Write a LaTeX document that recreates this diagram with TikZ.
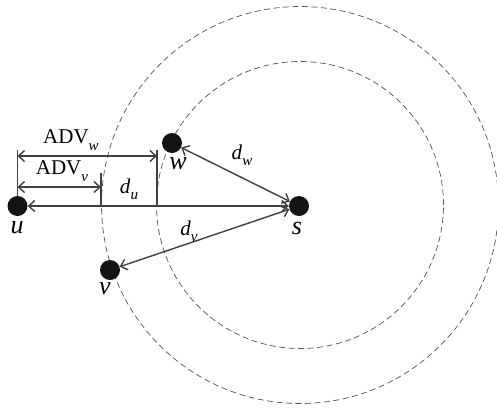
\documentclass[tikz,border=0pt]{standalone}
\usepackage{fontspec}
\setmainfont{Liberation Serif}
\usetikzlibrary{arrows.meta,positioning}
\definecolor{linegray}{HTML}{404040}
\definecolor{ringgray}{HTML}{505050}
\newcommand{\labfont}{\fontsize{21}{24}\selectfont}
\newcommand{\namefont}{\fontsize{26}{28}\selectfont}
\newcommand{\lowsub}[1]{\raisebox{-0.3em}{\fontsize{15}{15}\selectfont\textit{#1}}}

\begin{document}
\begin{tikzpicture}[x=1pt,y=-1pt,
  every node/.style={font=\labfont,inner sep=1pt},
  dot/.style={circle,fill=black!92,inner sep=0pt,minimum size=20pt},
  letterlab/.style={font=\namefont\itshape},
  ring/.style={ringgray,dash pattern=on 6pt off 3.5pt,line width=0.7pt},
  dist/.style={linegray,line width=1.4pt,{Straight Barb[length=6pt,width=11pt]}-{Straight Barb[length=6pt,width=11pt]}},
  tick/.style={linegray,line width=1.4pt}]
\useasboundingbox (0,0) rectangle (497,410);
% rings round s
\node[dot] (s) at (299,206) {};
\draw[ring] (300,205) circle (143.5pt);
\draw[ring] (300,205) circle (198.5pt);
% the other nodes
\node[dot] (u) at (17.5,206) {};
\node[dot] (w) at (172,143) {};
\node[dot] (v) at (110,270) {};
\node[letterlab] (lu) at (17,228) {u};
\node[letterlab] (lw) at (178,164) {w};
\node[letterlab] (ls) at (297,228) {s};
\node[letterlab] (lv) at (105,289) {v};
% distances to s
\draw[dist] (u) -- (s);
\draw[dist] (w) -- (s);
\draw[dist] (v) -- (s);
\node (du) at (129,189) {\textit{d}\lowsub{u}};
\node (dw) at (242,155) {\textit{d}\lowsub{w}};
\node (dv) at (189,231) {\textit{d}\lowsub{v}};
% advances
\coordinate (tu) at (17.5,150);
\coordinate (tw) at (157,150);
\coordinate (bw) at (157,206);
\coordinate (tv) at (101,173);
\coordinate (bv) at (101,206);
\draw[tick] (u.north) -- (tu);
\draw[tick] (tw) -- (bw);
\draw[tick] (tv) -- (bv);
\coordinate (aw1) at (17.5,156);
\coordinate (aw2) at (157,156);
\coordinate (av1) at (17.5,187);
\coordinate (av2) at (101,187);
\draw[dist] (aw1) -- (aw2);
\draw[dist] (av1) -- (av2);
\node (advw) at (71,140) {ADV\lowsub{w}};
\node (advv) at (62,171) {ADV\lowsub{v}};
\end{tikzpicture}
\end{document}
